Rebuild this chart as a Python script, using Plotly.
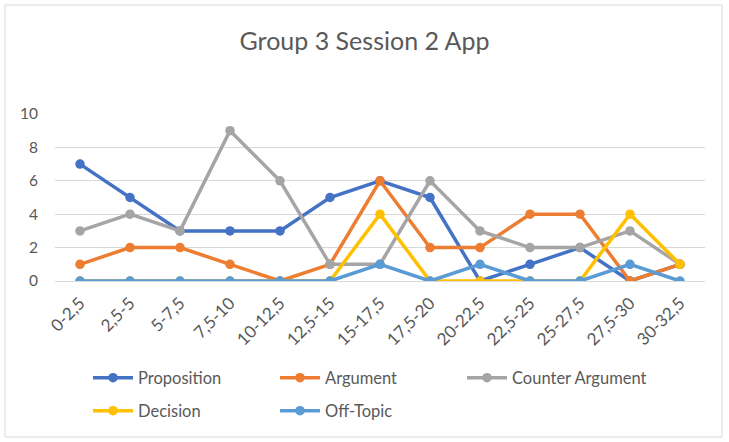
import plotly.graph_objects as go

categories = ["0-2,5", "2,5-5", "5-7,5", "7,5-10", "10-12,5", "12,5-15", "15-17,5",
              "17,5-20", "20-22,5", "22,5-25", "25-27,5", "27,5-30", "30-32,5"]
proposition = [7, 5, 3, 3, 3, 5, 6, 5, 0, 1, 2, 0, 1]
argument = [1, 2, 2, 1, 0, 1, 6, 2, 2, 4, 4, 0, 1]
counter_argument = [3, 4, 3, 9, 6, 1, 1, 6, 3, 2, 2, 3, 1]
decision = [0, 0, 0, 0, 0, 0, 4, 0, 0, 0, 0, 4, 1]
off_topic = [0, 0, 0, 0, 0, 0, 1, 0, 1, 0, 0, 1, 0]

series = [
    ("Proposition", proposition, "#4472C4", "legend"),
    ("Argument", argument, "#ED7D31", "legend"),
    ("Counter Argument", counter_argument, "#A5A5A5", "legend"),
    ("Decision", decision, "#FFC000", "legend2"),
    ("Off-Topic", off_topic, "#5B9BD5", "legend2"),
]

FONT = "Lato, Carlito, Calibri, sans-serif"
fig = go.Figure()
for name, vals, color, leg in series:
    fig.add_trace(go.Scatter(
        x=categories, y=vals, name=name, mode="lines+markers",
        line=dict(color=color, width=3.5),
        marker=dict(color=color, size=9.5),
        legend=leg,
    ))

W, H = 729, 442
L, R, T, B = 55, 24, 114, 161
pw, ph = W - L - R, H - T - B

leg_common = dict(orientation="h", x=(88 - L) / pw, xanchor="left", yanchor="middle",
                  font=dict(size=16.5, color="#595959", family=FONT),
                  entrywidth=132, itemwidth=40, bgcolor="rgba(0,0,0,0)")

fig.update_layout(
    width=W, height=H,
    margin=dict(l=L, r=R, t=T, b=B),
    paper_bgcolor="white", plot_bgcolor="white",
    font=dict(family=FONT, color="#595959"),
    title=dict(text="Group 3 Session 2 App", x=0.5, xanchor="center",
               y=1 - 41 / H, yanchor="middle",
               font=dict(size=25, color="#595959", family=FONT)),
    showlegend=True,
    legend=dict(y=-(378 - (H - B)) / ph, **leg_common),
    legend2=dict(y=-(411 - (H - B)) / ph, **leg_common),
    xaxis=dict(type="category", showgrid=False, showline=False, ticks="",
               tickangle=-45, tickfont=dict(size=17, color="#595959", family=FONT),
               ticklabelstandoff=8,
               range=[-0.5, len(categories) - 0.5]),
    yaxis=dict(range=[0, 10], dtick=2, showgrid=True, gridcolor="#D9D9D9",
               gridwidth=1, zeroline=True, zerolinecolor="#D9D9D9", zerolinewidth=1,
               showline=False, ticks="", tickfont=dict(size=15.5, color="#595959", family=FONT),
               ticklabelstandoff=16),
    shapes=[dict(type="rect", xref="paper", yref="paper",
                 x0=(5 - L) / pw, x1=(722 - L) / pw,
                 y0=-(437 - (H - B)) / ph, y1=1 + (T - 5) / ph,
                 line=dict(color="#D9D9D9", width=1), layer="below")],
)

fig.write_html("out.html")
